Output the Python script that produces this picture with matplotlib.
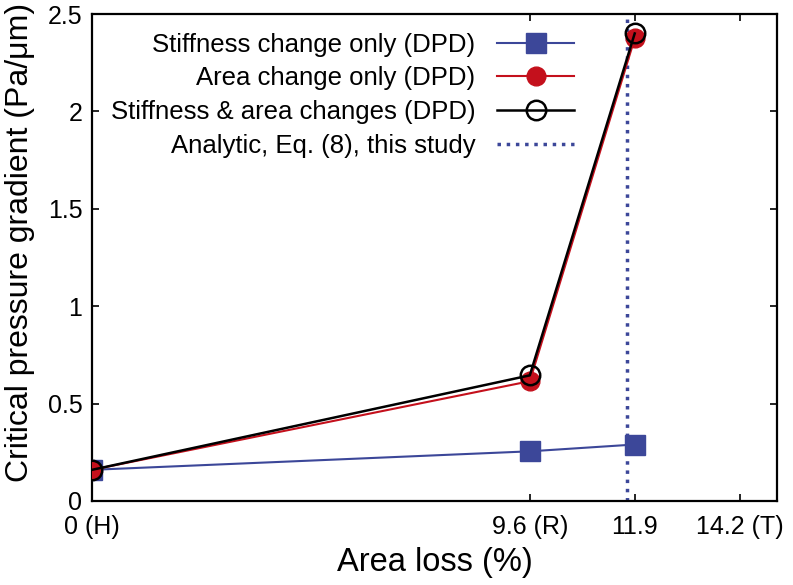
import matplotlib
matplotlib.use("Agg")
import matplotlib.pyplot as plt

plt.rcParams['font.family'] = ['Liberation Sans', 'DejaVu Sans']

area_loss = [0, 9.6, 11.9]
stiffness_only = [0.16, 0.255, 0.29]
area_only = [0.16, 0.615, 2.375]
both_changes = [0.16, 0.645, 2.40]
analytic_x = 11.73

xtick_pos = [0, 9.6, 11.9, 14.2]
xtick_labels = ['0 (H)', '9.6 (R)', '11.9', '14.2 (T)']
ytick_pos = [0, 0.5, 1, 1.5, 2, 2.5]
ytick_labels = ['0', '0.5', '1', '1.5', '2', '2.5']

blue = '#3c4799'
red = '#c4101c'

fig = plt.figure(figsize=(7.93, 5.85), dpi=100)
ax = fig.add_axes([92/793, 1 - 501/585, (777-92)/793, (501-14)/585])

ax.plot(area_loss, stiffness_only, color=blue, lw=1.5, marker='s', ms=14,
        label='Stiffness change only (DPD)', zorder=3)
ax.plot(area_loss, area_only, color=red, lw=1.5, marker='o', ms=13.5,
        label='Area change only (DPD)', zorder=4)
ax.plot(area_loss, both_changes, color='black', lw=1.8, marker='o', ms=14,
        mfc='none', mew=1.8, label='Stiffness & area changes (DPD)', zorder=5)
ax.axvline(analytic_x, color=blue, ls=':', lw=2.5,
           label='Analytic, Eq. (8), this study', zorder=2)

ax.set_xlim(0, 15.02)
ax.set_ylim(0, 2.5)
ax.set_xticks(xtick_pos)
ax.set_xticklabels(xtick_labels)
ax.set_yticks(ytick_pos)
ax.set_yticklabels(ytick_labels)
ax.tick_params(direction='in', top=True, right=True, length=5, width=1.2,
               labelsize=18)
ax.tick_params(axis='x', pad=10)
ax.tick_params(axis='y', pad=7)
for s in ax.spines.values():
    s.set_linewidth(1.6)

ax.set_xlabel('Area loss (%)', fontsize=23.5, labelpad=6)
ax.set_ylabel('Critical pressure gradient (Pa/\u03bcm)', fontsize=23)
ax.yaxis.set_label_coords(-0.083, 0.53)

leg = ax.legend(loc='upper right', bbox_to_anchor=(0.704, 0.962), frameon=False,
                markerfirst=False, fontsize=18.5, handlelength=3.0,
                labelspacing=0.38, handletextpad=0.85, borderpad=0,
                borderaxespad=0)

fig.savefig('out.png', dpi=100)
